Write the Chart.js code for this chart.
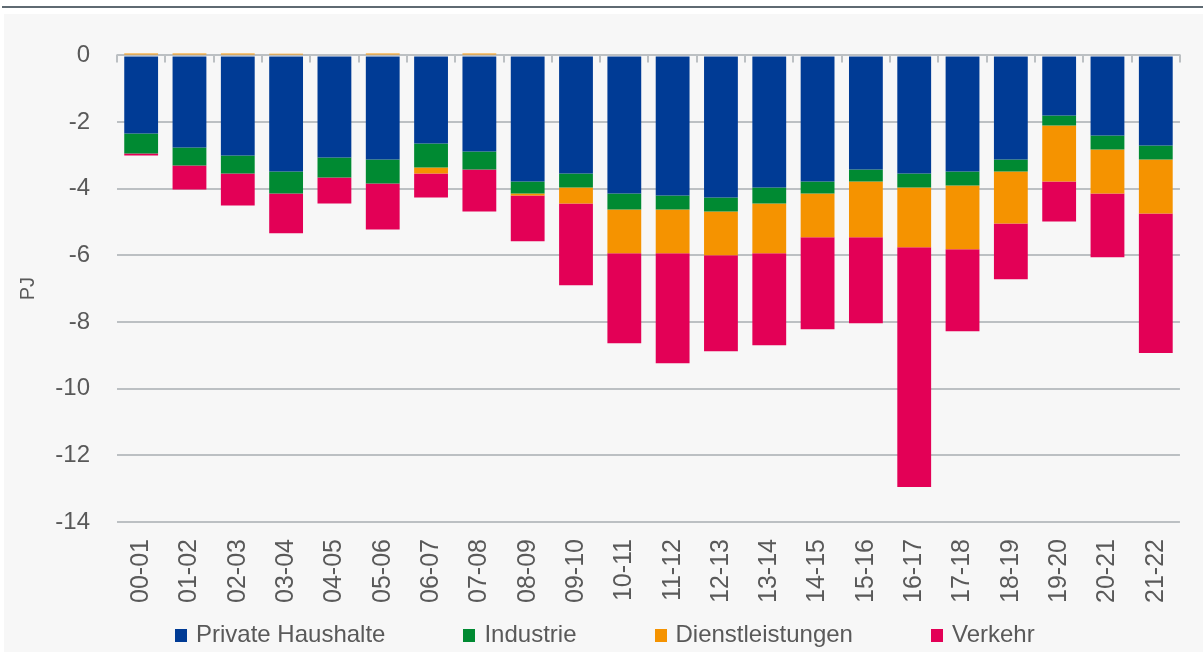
<!DOCTYPE html>
<html>
<head>
<meta charset="utf-8">
<script src="https://cdn.jsdelivr.net/npm/chart.js@4"></script>
<style>
html,body{margin:0;padding:0;background:#fff;width:1203px;height:652px;overflow:hidden;font-family:'Liberation Sans',Arial,sans-serif;}
#topline{position:absolute;left:2px;top:6px;width:1201px;height:2px;background:#5f6a72;}
#panel{position:absolute;left:4px;top:14px;width:1199px;height:638px;background:#f7f7f7;}
#c{position:absolute;left:0;top:0;}
#legend{position:absolute;left:171px;top:608px;display:flex;flex-direction:row;align-items:flex-start;}
.li{display:flex;align-items:flex-start;margin-right:78px;font-size:24px;line-height:24px;color:#595959;white-space:nowrap;}
.li:last-child{margin-right:0;}
.bx{display:inline-block;width:12px;height:13px;margin-top:7px;margin-right:9px;}
</style>
</head>
<body>
<div id="topline"></div>
<div id="panel">
  <canvas id="c" width="1199" height="638"></canvas>
  <div id="legend"></div>
</div>
<script>
// ---- data ----
const categories = ["00-01","01-02","02-03","03-04","04-05","05-06","06-07","07-08","08-09","09-10","10-11","11-12","12-13","13-14","14-15","15-16","16-17","17-18","18-19","19-20","20-21","21-22"];
const seriesNames = ["Private Haushalte","Industrie","Dienstleistungen","Verkehr"];
const privateHaushalte = [-2.34,-2.76,-3.00,-3.48,-3.06,-3.12,-2.64,-2.88,-3.78,-3.54,-4.14,-4.20,-4.26,-3.96,-3.78,-3.42,-3.54,-3.48,-3.12,-1.80,-2.40,-2.70];
const industrie = [-0.60,-0.54,-0.54,-0.66,-0.60,-0.72,-0.72,-0.54,-0.36,-0.42,-0.48,-0.42,-0.42,-0.48,-0.36,-0.36,-0.42,-0.42,-0.36,-0.30,-0.42,-0.42];
const dienstleistungen = [0.06,0.06,0.06,0.05,0,0.06,-0.18,0.06,-0.06,-0.48,-1.32,-1.32,-1.32,-1.50,-1.32,-1.68,-1.80,-1.92,-1.56,-1.68,-1.32,-1.62];
const verkehr = [-0.06,-0.72,-0.96,-1.20,-0.78,-1.38,-0.72,-1.26,-1.38,-2.46,-2.70,-3.30,-2.88,-2.76,-2.76,-2.58,-7.19,-2.46,-1.68,-1.20,-1.92,-4.19];
const yTickValues = [0,-2,-4,-6,-8,-10,-12,-14];
const yAxisTitle = "PJ";

// ---- styles ----
const colors = ["#003B95","#008A32","#F59300","#E30056"];
const gridColor = "#bcc0c3";
const textColor = "#595959";
const fontFamily = "'Liberation Sans', Arial, sans-serif";

const seriesValues = [privateHaushalte, industrie, dienstleistungen, verkehr];

const zeroTicks = {
  id: 'zeroTicks',
  afterDatasetsDraw(chart) {
    const x = chart.scales.x, y = chart.scales.y;
    const ctx = chart.ctx;
    const y0 = y.getPixelForValue(0);
    ctx.save();
    ctx.strokeStyle = gridColor;
    ctx.lineWidth = 2;
    ctx.beginPath();
    for (let i = 0; i <= categories.length; i++) {
      const px = Math.round(x.getPixelForValue(i - 0.5));
      ctx.moveTo(px, y0 - 1);
      ctx.lineTo(px, y0 + 7);
    }
    ctx.stroke();
    ctx.restore();
  }
};

const htmlLegend = {
  id: 'htmlLegend',
  afterUpdate(chart) {
    const el = document.getElementById('legend');
    el.innerHTML = '';
    chart.data.datasets.forEach(ds => {
      const item = document.createElement('div');
      item.className = 'li';
      const b = document.createElement('span');
      b.className = 'bx';
      b.style.background = ds.backgroundColor;
      const t = document.createElement('span');
      t.textContent = ds.label;
      item.appendChild(b); item.appendChild(t);
      el.appendChild(item);
    });
  }
};

new Chart(document.getElementById('c'), {
  type: 'bar',
  data: {
    labels: categories,
    datasets: seriesNames.map((n, i) => ({
      label: n,
      data: seriesValues[i],
      backgroundColor: colors[i],
      borderWidth: 0,
      barPercentage: 0.7,
      categoryPercentage: 1.0,
      clip: false
    }))
  },
  options: {
    responsive: false,
    animation: false,
    layout: { padding: { top: 41, right: 9, bottom: 40, left: 0 } },
    plugins: { legend: { display: false }, tooltip: { enabled: false } },
    scales: {
      x: {
        stacked: true,
        grid: { display: false, drawTicks: false },
        border: { display: false },
        ticks: {
          minRotation: 90, maxRotation: 90, autoSkip: false,
          padding: 17,
          color: textColor,
          font: { family: fontFamily, size: 25 }
        },
        afterFit(scale) { scale.height = 90; }
      },
      y: {
        stacked: true,
        min: -14, max: 0,
        afterBuildTicks(scale) { scale.ticks = yTickValues.map(v => ({ value: v })); },
        grid: { color: gridColor, lineWidth: 2, drawTicks: false },
        border: { display: false },
        ticks: {
          padding: 27,
          color: textColor,
          font: { family: fontFamily, size: 24 },
          callback: v => String(v)
        },
        title: {
          display: true, text: yAxisTitle, color: textColor,
          font: { family: fontFamily, size: 20 },
          padding: { top: 12, bottom: 0 }
        },
        afterFit(scale) { scale.width = 113; }
      }
    }
  },
  plugins: [zeroTicks, htmlLegend]
});
</script>
</body>
</html>
